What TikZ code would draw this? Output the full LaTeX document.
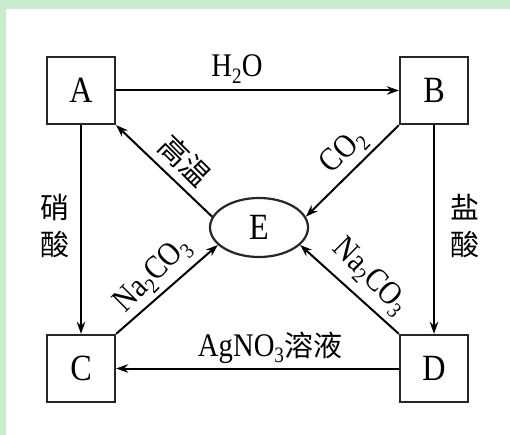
\documentclass[tikz,border=0pt]{standalone}
\usepackage{fontspec}
\setmainfont{Liberation Serif}[FakeStretch=0.87]
\newfontfamily\cjk{Noto Sans CJK SC}
\usetikzlibrary{arrows.meta,shapes.geometric}
\definecolor{framegreen}{RGB}{199,237,204}
% lowered, smaller index for chemical formulas
\newcommand\lowidx[1]{\raisebox{-0.2em}{\fontsize{22}{22}\selectfont #1}}
\newcommand\hanzi[1]{{\cjk\fontsize{29}{29}\selectfont #1}}

\begin{document}
\begin{tikzpicture}[x=1pt,y=-1pt,
  box/.style={draw=black!85, line width=2.3pt, minimum width=68pt, minimum height=67pt,
              inner sep=0pt, font=\fontsize{37}{37}\selectfont},
  conn/.style={line width=2pt, -{Stealth[length=12pt,width=8.5pt]}},
  lbl/.style={font=\fontsize{33}{33}\selectfont, inner sep=0pt},
  hz/.style={font=\cjk\fontsize{29}{37}\selectfont, inner sep=0pt, align=center}]
% frame
\fill[framegreen] (0,0) rectangle (510,435);
\fill[white] (6,9) rectangle (510,435);
\useasboundingbox (0,0) rectangle (510,435);

% substances
\node[box] (A) at (81,90.5) {A};
\node[box] (B) at (434,90.5) {B};
\node[box] (C) at (81,368.5) {C};
\node[box] (D) at (434,368.5) {D};
\node[draw=black!85, ellipse, line width=2.2pt, minimum width=98pt, minimum height=59pt,
      inner sep=0pt, font=\fontsize{37}{37}\selectfont] (E) at (259,227.5) {E};

% reactions
\draw[conn] (A) -- (B);
\draw[conn] (D) -- (C);
\draw[conn] (A) -- (C);
\draw[conn] (B) -- (D);
\draw[conn] (E.167) -- (A.south east);
\draw[conn] (B.south west) -- (E.13);
\draw[conn] (C.north east) -- (E.203);
\draw[conn] (D.north west) -- (E.337);

% reaction conditions
\node[lbl, anchor=base] (h2o) at (237,77) {H\lowidx{2}O};
\node[lbl, anchor=base] (agno3) at (270,356) {AgNO\lowidx{3}\hanzi{溶液}};
\node[hz] (xiaosuan) at (55,226) {硝\\酸};
\node[hz] (yansuan) at (465,226) {盐\\酸};
\node[lbl, rotate=-45] (gaowen) at (185,161) {\hanzi{高温}};
\node[lbl, rotate=45] (co2) at (344,152) {CO\lowidx{2}};
\node[lbl, rotate=45] (na2co3l) at (153,275) {Na\lowidx{2}CO\lowidx{3}};
\node[lbl, rotate=-45] (na2co3r) at (370,277) {Na\lowidx{2}CO\lowidx{3}};
\end{tikzpicture}
\end{document}
